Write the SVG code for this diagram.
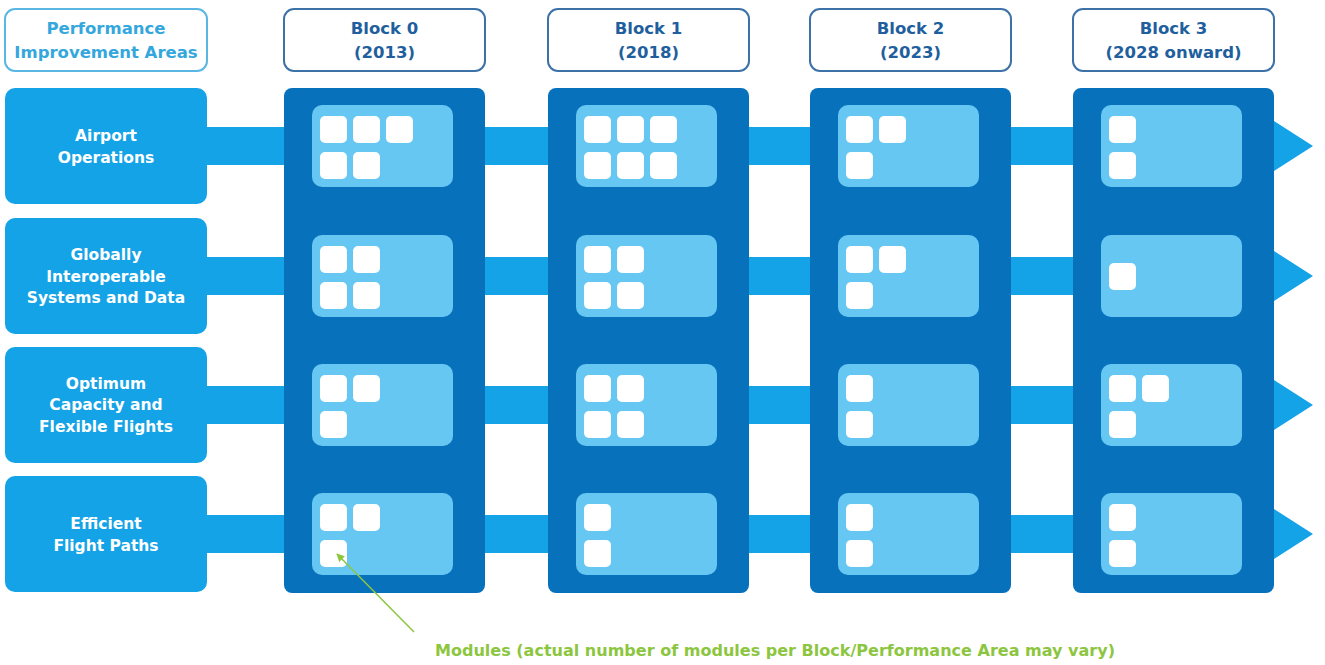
<svg xmlns="http://www.w3.org/2000/svg" width="1325" height="665" viewBox="0 0 1325 665">
<defs>
<style>
.hdr{fill:#ffffff;stroke:#3c72a8;stroke-width:2}
.hdrp{fill:#ffffff;stroke:#5ab6e3;stroke-width:2}
.htxt{font-family:"DejaVu Sans",sans-serif;font-weight:bold;font-size:16.5px;fill:#1f5f9e;text-anchor:middle}
.ptxt{font-family:"DejaVu Sans",sans-serif;font-weight:bold;font-size:16.5px;fill:#34a7dd;text-anchor:middle}
.area{fill:#14a3e6}
.atxt{font-family:"DejaVu Sans",sans-serif;font-weight:bold;font-size:15.5px;fill:#ffffff;text-anchor:middle}
.band{fill:#14a3e6}
.col{fill:#0871bc}
.pan{fill:#66c7f2}
.mod{fill:#ffffff}
.note{font-family:"DejaVu Sans",sans-serif;font-weight:bold;font-size:15px;fill:#8cc63f}
.lead{stroke:#8cc63f;stroke-width:1.5;fill:none}
</style>
<marker id="ah" viewBox="0 0 10 10" refX="9" refY="5" markerWidth="8" markerHeight="8" orient="auto" markerUnits="userSpaceOnUse">
<path d="M0,0 L10,5 L0,10 Z" fill="#8cc63f"/>
</marker>
<rect id="m" width="27" height="27" rx="5"/>
</defs>
<rect width="1325" height="665" fill="#ffffff"/>

<!-- headers -->
<g id="hdr-areas"><rect class="hdrp" x="5" y="9" width="202" height="62" rx="10"/><text class="ptxt" x="106" y="33.5">Performance</text><text class="ptxt" x="106" y="57.5">Improvement Areas</text></g>
<g id="hdr-b0"><rect class="hdr" x="284" y="9" width="201" height="62" rx="10"/><text class="htxt" x="384.5" y="33.5">Block 0</text><text class="htxt" x="384.5" y="57.5">(2013)</text></g>
<g id="hdr-b1"><rect class="hdr" x="548" y="9" width="201" height="62" rx="10"/><text class="htxt" x="648.5" y="33.5">Block 1</text><text class="htxt" x="648.5" y="57.5">(2018)</text></g>
<g id="hdr-b2"><rect class="hdr" x="810" y="9" width="201" height="62" rx="10"/><text class="htxt" x="910.5" y="33.5">Block 2</text><text class="htxt" x="910.5" y="57.5">(2023)</text></g>
<g id="hdr-b3"><rect class="hdr" x="1073" y="9" width="201" height="62" rx="10"/><text class="htxt" x="1173.5" y="33.5">Block 3</text><text class="htxt" x="1173.5" y="57.5">(2028 onward)</text></g>

<!-- connectors -->
<g id="connectors">
<path class="band" d="M200,127 H1274 V121 L1313,146 L1274,171 V165 H200 Z"/>
<path class="band" d="M200,257 H1274 V251 L1313,276 L1274,301 V295 H200 Z"/>
<path class="band" d="M200,386 H1274 V380 L1313,405 L1274,430 V424 H200 Z"/>
<path class="band" d="M200,515 H1274 V509 L1313,534 L1274,559 V553 H200 Z"/>
</g>

<!-- area labels -->
<g id="area-airport"><rect class="area" x="5" y="88" width="202" height="116" rx="10"/><text class="atxt" x="106" y="140.5">Airport</text><text class="atxt" x="106" y="162.5">Operations</text></g>
<g id="area-global"><rect class="area" x="5" y="218" width="202" height="116" rx="10"/><text class="atxt" x="106" y="259.5">Globally</text><text class="atxt" x="106" y="281.5">Interoperable</text><text class="atxt" x="106" y="303">Systems and Data</text></g>
<g id="area-capacity"><rect class="area" x="5" y="347" width="202" height="116" rx="10"/><text class="atxt" x="106" y="388.5">Optimum</text><text class="atxt" x="106" y="410">Capacity and</text><text class="atxt" x="106" y="431.5">Flexible Flights</text></g>
<g id="area-paths"><rect class="area" x="5" y="476" width="202" height="116" rx="10"/><text class="atxt" x="106" y="529">Efficient</text><text class="atxt" x="106" y="551">Flight Paths</text></g>

<!-- Block 0 -->
<g id="block0">
<rect class="col" x="284" y="88" width="201" height="505" rx="8"/>
<rect class="pan" x="312" y="105" width="141" height="82" rx="10"/>
<rect class="pan" x="312" y="235" width="141" height="82" rx="10"/>
<rect class="pan" x="312" y="364" width="141" height="82" rx="10"/>
<rect class="pan" x="312" y="493" width="141" height="82" rx="10"/>
<g class="mod">
<use href="#m" x="320" y="116"/><use href="#m" x="353" y="116"/><use href="#m" x="386" y="116"/><use href="#m" x="320" y="152"/><use href="#m" x="353" y="152"/>
<use href="#m" x="320" y="246"/><use href="#m" x="353" y="246"/><use href="#m" x="320" y="282"/><use href="#m" x="353" y="282"/>
<use href="#m" x="320" y="375"/><use href="#m" x="353" y="375"/><use href="#m" x="320" y="411"/>
<use href="#m" x="320" y="504"/><use href="#m" x="353" y="504"/><use href="#m" x="320" y="540"/>
</g>
</g>

<!-- Block 1 -->
<g id="block1">
<rect class="col" x="548" y="88" width="201" height="505" rx="8"/>
<rect class="pan" x="576" y="105" width="141" height="82" rx="10"/>
<rect class="pan" x="576" y="235" width="141" height="82" rx="10"/>
<rect class="pan" x="576" y="364" width="141" height="82" rx="10"/>
<rect class="pan" x="576" y="493" width="141" height="82" rx="10"/>
<g class="mod">
<use href="#m" x="584" y="116"/><use href="#m" x="617" y="116"/><use href="#m" x="650" y="116"/><use href="#m" x="584" y="152"/><use href="#m" x="617" y="152"/><use href="#m" x="650" y="152"/>
<use href="#m" x="584" y="246"/><use href="#m" x="617" y="246"/><use href="#m" x="584" y="282"/><use href="#m" x="617" y="282"/>
<use href="#m" x="584" y="375"/><use href="#m" x="617" y="375"/><use href="#m" x="584" y="411"/><use href="#m" x="617" y="411"/>
<use href="#m" x="584" y="504"/><use href="#m" x="584" y="540"/>
</g>
</g>

<!-- Block 2 -->
<g id="block2">
<rect class="col" x="810" y="88" width="201" height="505" rx="8"/>
<rect class="pan" x="838" y="105" width="141" height="82" rx="10"/>
<rect class="pan" x="838" y="235" width="141" height="82" rx="10"/>
<rect class="pan" x="838" y="364" width="141" height="82" rx="10"/>
<rect class="pan" x="838" y="493" width="141" height="82" rx="10"/>
<g class="mod">
<use href="#m" x="846" y="116"/><use href="#m" x="879" y="116"/><use href="#m" x="846" y="152"/>
<use href="#m" x="846" y="246"/><use href="#m" x="879" y="246"/><use href="#m" x="846" y="282"/>
<use href="#m" x="846" y="375"/><use href="#m" x="846" y="411"/>
<use href="#m" x="846" y="504"/><use href="#m" x="846" y="540"/>
</g>
</g>

<!-- Block 3 -->
<g id="block3">
<rect class="col" x="1073" y="88" width="201" height="505" rx="8"/>
<rect class="pan" x="1101" y="105" width="141" height="82" rx="10"/>
<rect class="pan" x="1101" y="235" width="141" height="82" rx="10"/>
<rect class="pan" x="1101" y="364" width="141" height="82" rx="10"/>
<rect class="pan" x="1101" y="493" width="141" height="82" rx="10"/>
<g class="mod">
<use href="#m" x="1109" y="116"/><use href="#m" x="1109" y="152"/>
<use href="#m" x="1109" y="263"/>
<use href="#m" x="1109" y="375"/><use href="#m" x="1142" y="375"/><use href="#m" x="1109" y="411"/>
<use href="#m" x="1109" y="504"/><use href="#m" x="1109" y="540"/>
</g>
</g>

<!-- annotation -->
<g id="note">
<line class="lead" x1="414" y1="632" x2="337" y2="554" marker-end="url(#ah)"/>
<text class="note" x="435" y="656" textLength="680" lengthAdjust="spacingAndGlyphs">Modules (actual number of modules per Block/Performance Area may vary)</text>
</g>
</svg>
